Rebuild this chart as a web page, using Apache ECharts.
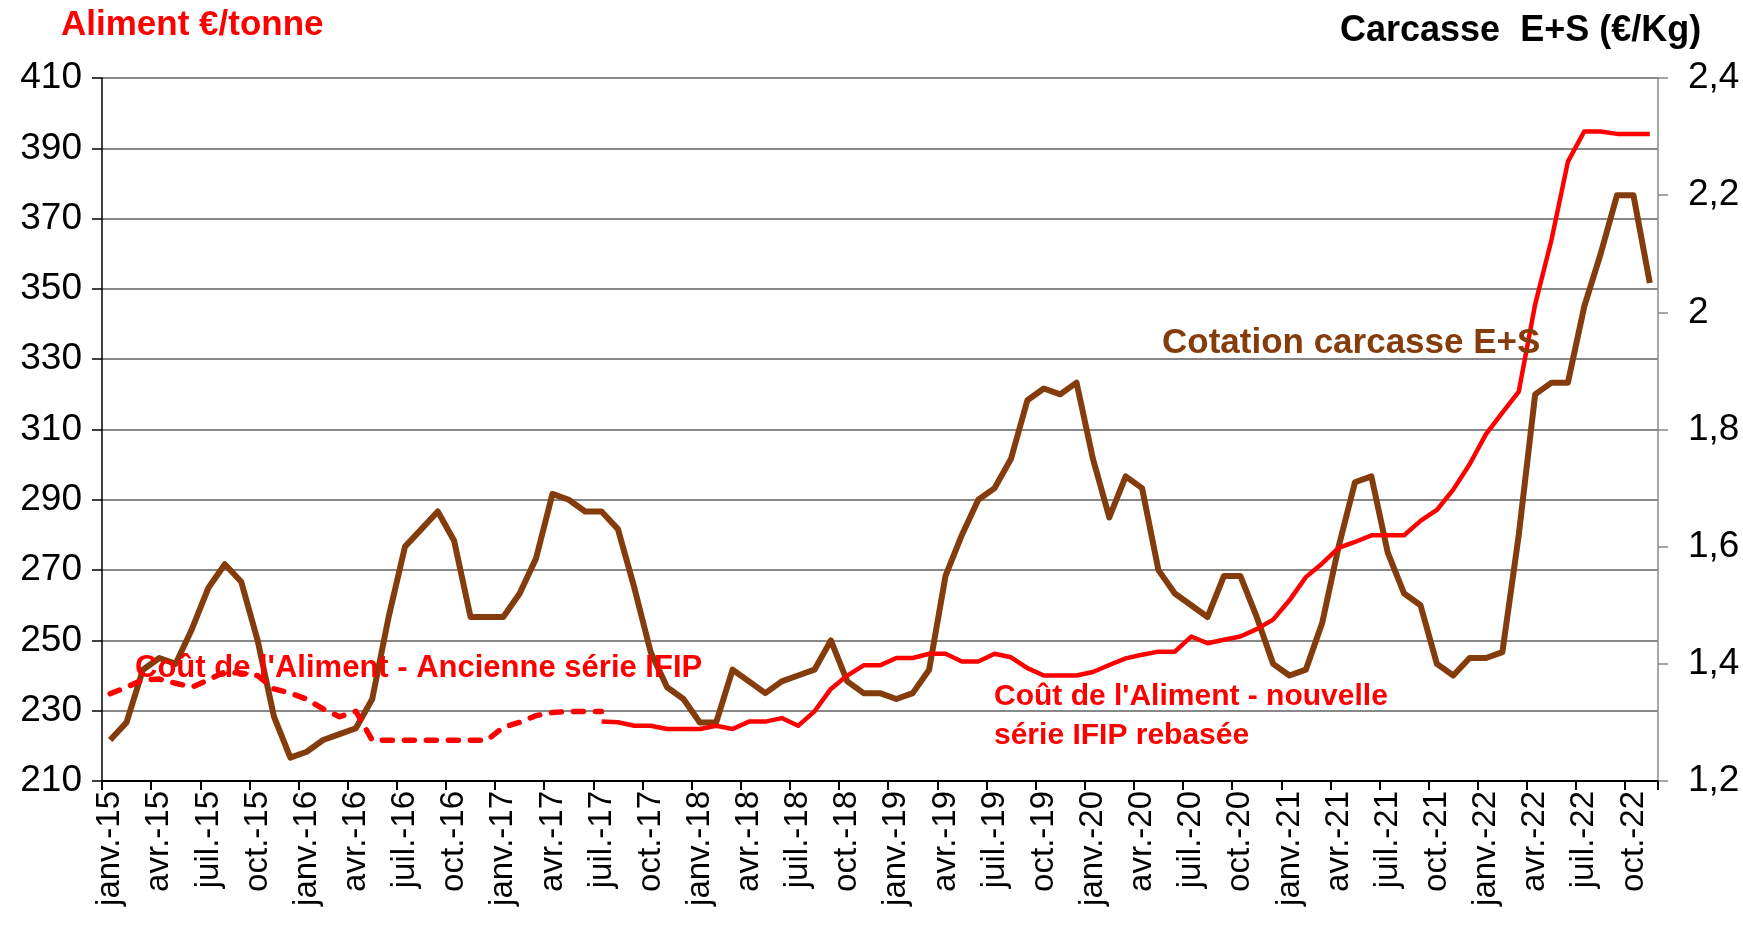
<!DOCTYPE html>
<html>
<head>
<meta charset="utf-8">
<script src="https://cdn.jsdelivr.net/npm/echarts@6/dist/echarts.min.js"></script>
<style>
html,body{margin:0;padding:0;background:#fff;}
#chart{width:1743px;height:926px;}
</style>
</head>
<body>
<div id="chart"></div>
<script>
// Month labels and years (categories janv.-15 .. nov.-22)
const monthNames = ['janv.','févr.','mars','avr.','mai','juin','juil.','août','sept.','oct.','nov.','déc.'];
const yearLabels = ['15','16','17','18','19','20','21','22'];

// Cotation carcasse E+S (€/kg) - right axis
const carcasse = [
  1.27, 1.30, 1.39, 1.41, 1.40, 1.46, 1.53, 1.57, 1.54, 1.44, 1.31, 1.24,
  1.25, 1.27, 1.28, 1.29, 1.34, 1.48, 1.60, 1.63, 1.66, 1.61, 1.48, 1.48,
  1.48, 1.52, 1.58, 1.69, 1.68, 1.66, 1.66, 1.63, 1.53, 1.42, 1.36, 1.34,
  1.30, 1.30, 1.39, 1.37, 1.35, 1.37, 1.38, 1.39, 1.44, 1.37, 1.35, 1.35,
  1.34, 1.35, 1.39, 1.55, 1.62, 1.68, 1.70, 1.75, 1.85, 1.87, 1.86, 1.88,
  1.75, 1.65, 1.72, 1.70, 1.56, 1.52, 1.50, 1.48, 1.55, 1.55, 1.48, 1.40,
  1.38, 1.39, 1.47, 1.60, 1.71, 1.72, 1.59, 1.52, 1.50, 1.40, 1.38, 1.41,
  1.41, 1.42, 1.62, 1.86, 1.88, 1.88, 2.01, 2.10, 2.20, 2.20, 2.05
];

// Coût de l'Aliment - ancienne série IFIP (€/tonne) - left axis
const alimentAncienne = [
  234.8, 236.7, 238.8, 239.0, 237.8, 236.7, 238.8, 241.0, 240.7, 240.0, 236.2, 235.0,
  233.3, 230.5, 228.3, 229.8, 221.6, 221.6, 221.6, 221.6, 221.6, 221.6, 221.6, 221.6,
  225.3, 226.7, 228.6, 229.5, 229.8, 229.8, 229.8, null,
  null, null, null, null, null, null, null, null, null, null, null, null,
  null, null, null, null, null, null, null, null, null, null, null, null,
  null, null, null, null, null, null, null, null, null, null, null, null,
  null, null, null, null, null, null, null, null, null, null, null, null,
  null, null, null, null, null, null, null, null, null, null, null
];

// Coût de l'Aliment - nouvelle série IFIP rebasée (€/tonne) - left axis
const alimentNouvelle = [
  null, null, null, null, null, null, null, null, null, null, null, null,
  null, null, null, null, null, null, null, null, null, null, null, null,
  null, null, null, null, null, null,
  226.9, 226.7, 225.7, 225.7, 224.8, 224.8,
  224.8, 225.7, 224.8, 226.9, 226.9, 227.9, 225.7, 229.8, 236.2, 240.0, 242.9, 242.9,
  245.0, 245.0, 246.2, 246.2, 244.0, 244.0, 246.2, 245.2, 242.1, 240.0, 240.0, 240.0,
  241.0, 243.0, 244.9, 245.9, 246.8, 246.8, 251.1, 249.2, 250.2, 251.1, 253.2, 255.9,
  261.4, 268.0, 271.9, 276.3, 278.0, 279.9, 279.9, 279.9, 284.0, 287.1, 292.9, 300.1,
  308.7, 314.8, 320.8, 345.6, 364.0, 386.2, 394.8, 394.8, 394.1, 394.1, 394.1
];

const categories = [];
yearLabels.forEach(y => monthNames.forEach(m => categories.push(m + '-' + y)));
const xCategories = categories.slice(0, carcasse.length);

const FONT = "'Liberation Sans', Arial, sans-serif";
const BROWN = '#843C0C';
const RED = '#FF0000';
const fmt = v => String(+(+v).toFixed(1)).replace('.', ',');

const chart = echarts.init(document.getElementById('chart'), null, {renderer: 'canvas'});
chart.setOption({
  animation: false,
  backgroundColor: '#ffffff',
  textStyle: {fontFamily: FONT},
  grid: {left: 102, right: 85, top: 78, bottom: 145, containLabel: false},
  xAxis: {
    type: 'category',
    data: xCategories,
    boundaryGap: true,
    axisLine: {show: true, lineStyle: {color: '#000', width: 2}},
    axisTick: {show: true, interval: 2, length: 9, lineStyle: {color: '#000', width: 2}},
    axisLabel: {interval: 2, rotate: 90, margin: 10, fontSize: 33, color: '#000', fontFamily: FONT},
    splitLine: {show: false}
  },
  yAxis: [
    {
      type: 'value', position: 'left', min: 210, max: 410, interval: 20,
      axisLine: {show: true, lineStyle: {color: '#000', width: 1.5}},
      axisTick: {show: true, length: 10, lineStyle: {color: '#000', width: 1.5}},
      axisLabel: {fontSize: 37, color: '#000', margin: 20, fontFamily: FONT},
      splitLine: {show: true, lineStyle: {color: '#888', width: 2}}
    },
    {
      type: 'value', position: 'right', min: 1.2, max: 2.4, interval: 0.2,
      axisLine: {show: true, lineStyle: {color: '#888', width: 1.5}},
      axisTick: {show: true, length: 10, lineStyle: {color: '#888', width: 1.5}},
      axisLabel: {fontSize: 37, color: '#000', margin: 30, fontFamily: FONT, formatter: fmt},
      splitLine: {show: false}
    }
  ],
  series: [
    {
      name: 'Cotation carcasse E+S', type: 'line', yAxisIndex: 1, data: carcasse,
      symbol: 'none', lineStyle: {color: BROWN, width: 6, join: 'round'}, itemStyle: {color: BROWN}
    },
    {
      name: "Coût de l'Aliment - Ancienne série IFIP", type: 'line', yAxisIndex: 0, data: alimentAncienne,
      symbol: 'none', connectNulls: false,
      lineStyle: {color: RED, width: 5.5, type: [10, 12], cap: 'round', join: 'round'}, itemStyle: {color: RED}
    },
    {
      name: "Coût de l'Aliment - nouvelle série IFIP rebasée", type: 'line', yAxisIndex: 0, data: alimentNouvelle,
      symbol: 'none', connectNulls: false,
      lineStyle: {color: RED, width: 4.5, join: 'round'}, itemStyle: {color: RED}
    }
  ],
  graphic: [
    {type: 'text', x: 61, y: 25, style: {text: 'Aliment €/tonne', font: 'bold 35px ' + FONT, fill: RED, verticalAlign: 'middle', textVerticalAlign: 'middle'}},
    {type: 'text', x: 1340, y: 31, style: {text: 'Carcasse  E+S (€/Kg)', font: 'bold 36px ' + FONT, fill: '#000', verticalAlign: 'middle', textVerticalAlign: 'middle'}},
    {type: 'text', x: 135, y: 668, z: 10, style: {text: "Coût de l'Aliment - Ancienne série IFIP", font: 'bold 31px ' + FONT, fill: RED, verticalAlign: 'middle', textVerticalAlign: 'middle'}},
    {type: 'text', x: 994, y: 697, z: 10, style: {text: "Coût de l'Aliment - nouvelle", font: 'bold 30px ' + FONT, fill: RED, verticalAlign: 'middle', textVerticalAlign: 'middle'}},
    {type: 'text', x: 994, y: 736, z: 10, style: {text: 'série IFIP rebasée', font: 'bold 30px ' + FONT, fill: RED, verticalAlign: 'middle', textVerticalAlign: 'middle'}},
    {type: 'text', x: 1162, y: 343, z: 10, style: {text: 'Cotation carcasse E+S', font: 'bold 35px ' + FONT, fill: BROWN, verticalAlign: 'middle', textVerticalAlign: 'middle'}}
  ]
});
</script>
</body>
</html>
